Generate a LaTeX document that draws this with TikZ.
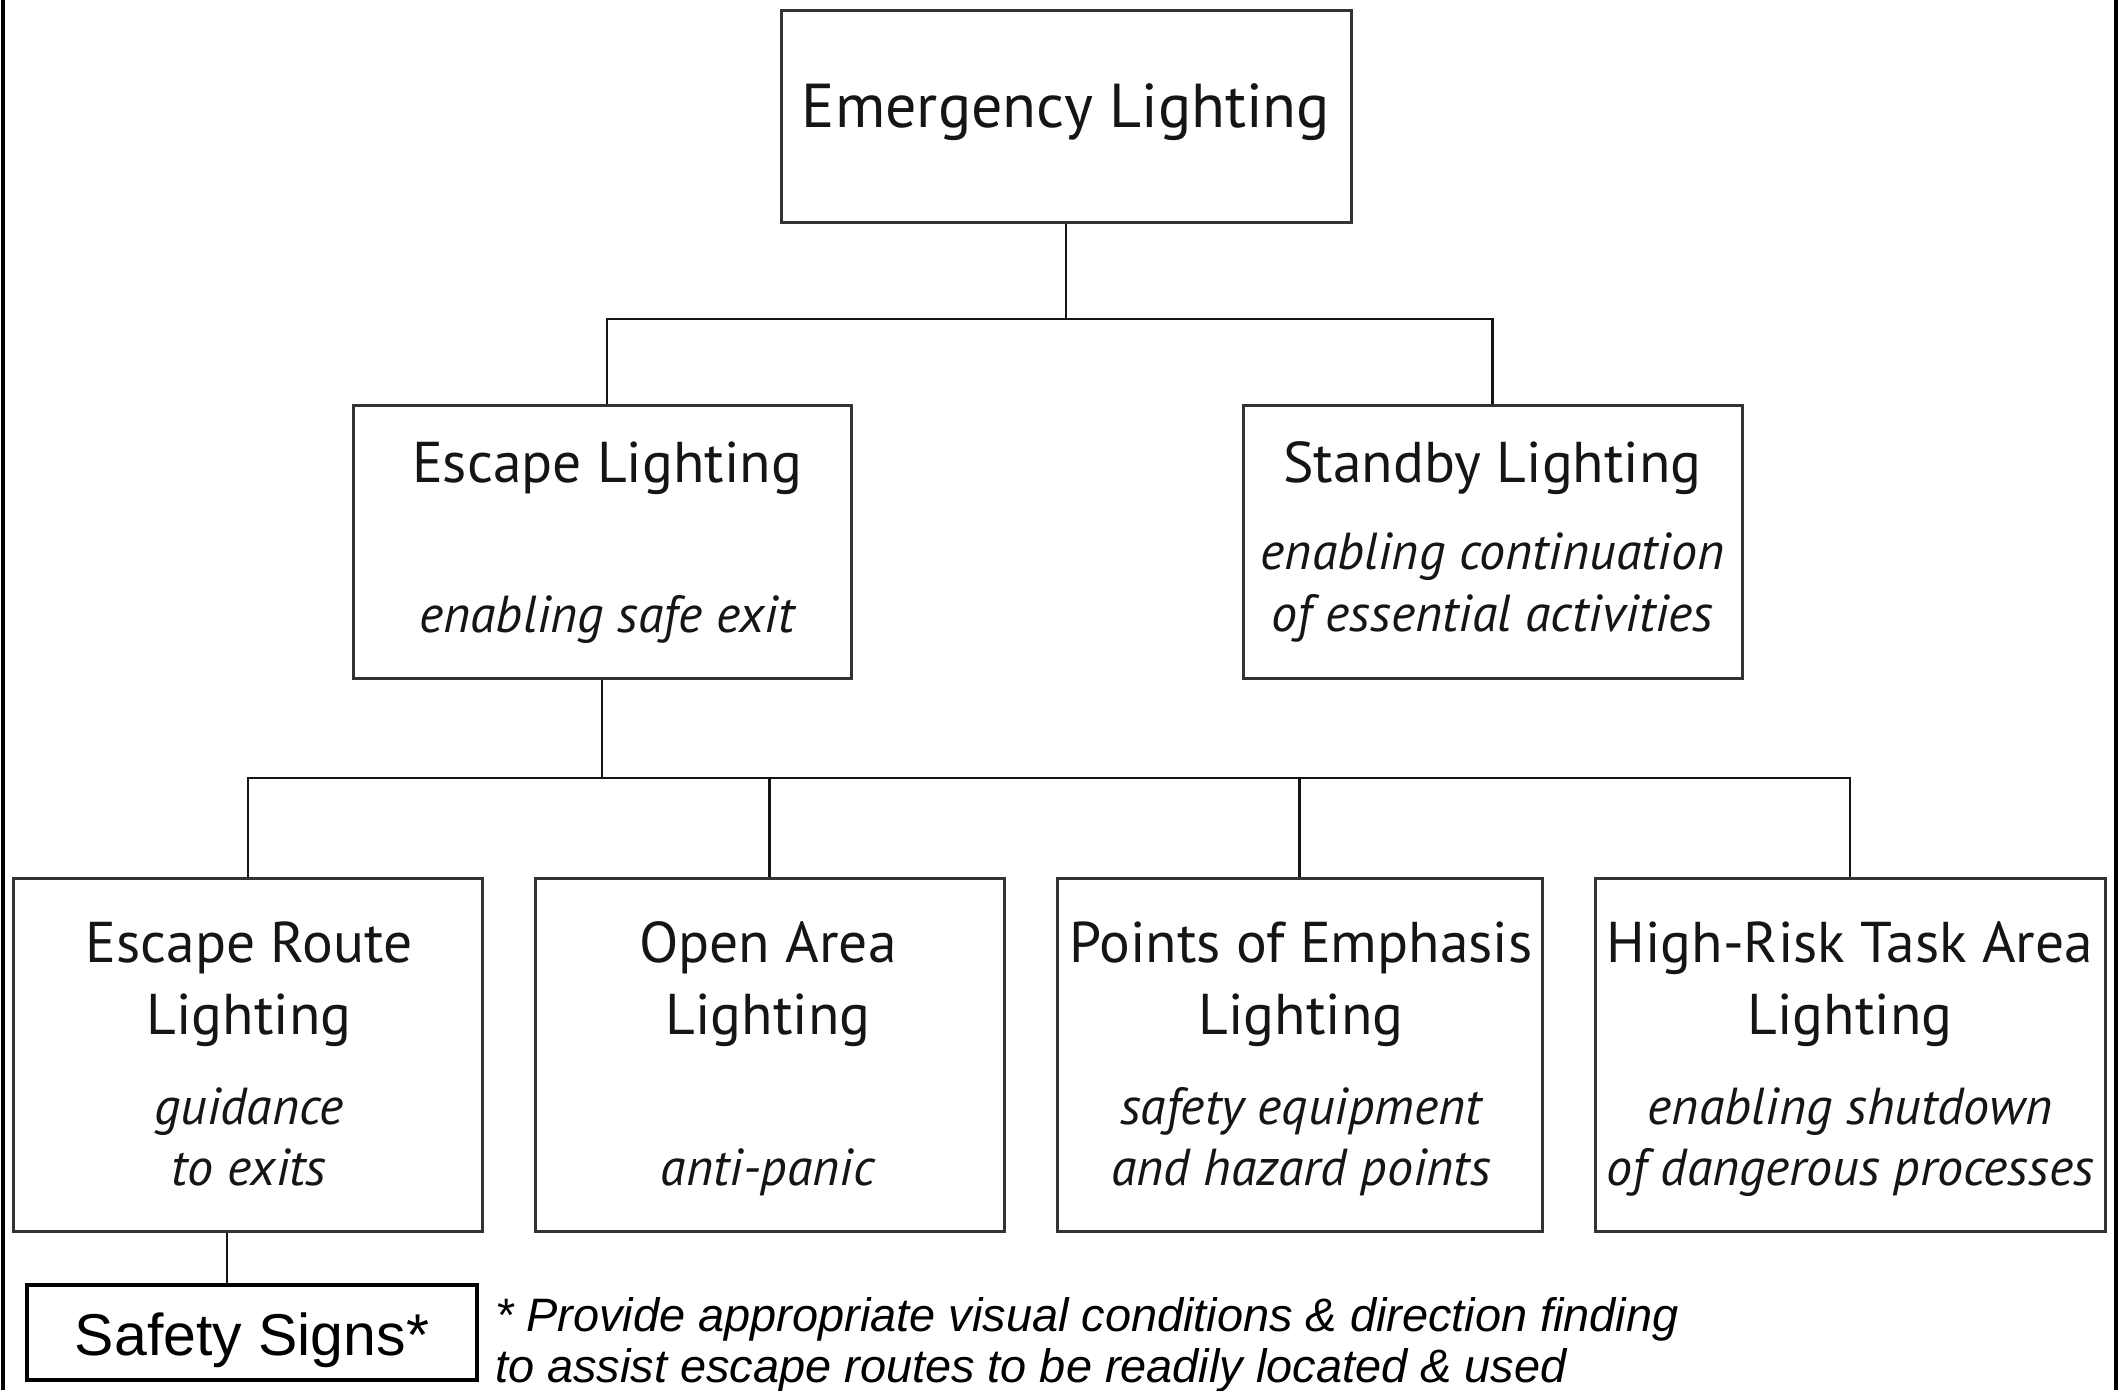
\documentclass[tikz,border=0pt]{standalone}
\usepackage{fontspec}
\setmainfont{PT Sans}
\newfontfamily\arialf{Liberation Sans}
\definecolor{ink}{HTML}{151515}
\definecolor{edge}{HTML}{333333}
\begin{document}
\begin{tikzpicture}[x=1pt,y=-1pt,
  box/.style={draw=edge,line width=3pt,rectangle,inner sep=0pt},
  conn/.style={draw=ink,line width=2.6pt},
  ttl/.style={anchor=base,inner sep=0pt,text=ink,font=\fontsize{57.5}{66}\selectfont},
  sub/.style={anchor=base,inner sep=0pt,text=ink,font=\fontsize{52}{60}\selectfont\itshape},
  frame/.style={draw=black,line width=3.5pt}]
\useasboundingbox (0,0) rectangle (2119,1390);
% outer frame sides
\coordinate (fl1) at (3,0); \coordinate (fl2) at (3,1390);
\coordinate (fr1) at (2116,0); \coordinate (fr2) at (2116,1390);
\draw[frame] (fl1) -- (fl2);
\draw[frame] (fr1) -- (fr2);
% boxes
\node[box,minimum width=570pt,minimum height=212pt] (em) at (1066,116) {};
\node[box,minimum width=498pt,minimum height=273pt] (esc) at (602,541.5) {};
\node[box,minimum width=499pt,minimum height=273pt] (stb) at (1492.5,541.5) {};
\node[box,minimum width=469pt,minimum height=353pt] (er) at (248,1054.5) {};
\node[box,minimum width=469pt,minimum height=353pt] (oa) at (769.5,1054.5) {};
\node[box,minimum width=485pt,minimum height=353pt] (pe) at (1299.5,1054.5) {};
\node[box,minimum width=510pt,minimum height=353pt] (hr) at (1850,1054.5) {};
\node[draw=black,line width=4.5pt,minimum width=450pt,minimum height=95pt,inner sep=0pt] (ss) at (252,1332.5) {};
% texts
\node[ttl,font=\fontsize{62}{70}\selectfont] (t-em) at (1066,127) {Emergency Lighting};
\node[ttl] (t-esc) at (607,482) {Escape Lighting};
\node[sub] (s-esc) at (607,632) {enabling safe exit};
\node[ttl] (t-stb) at (1492.5,482) {Standby Lighting};
\node[sub] (s-stb1) at (1492.5,569) {enabling continuation};
\node[sub] (s-stb2) at (1492.5,631) {of essential activities};
\node[ttl] (t-er1) at (249,962) {Escape Route};
\node[ttl] (t-er2) at (249,1034) {Lighting};
\node[sub] (s-er1) at (249,1124) {guidance};
\node[sub] (s-er2) at (249,1185) {to exits};
\node[ttl] (t-oa1) at (768,962) {Open Area};
\node[ttl] (t-oa2) at (768,1034) {Lighting};
\node[sub] (s-oa2) at (768,1185) {anti-panic};
\node[ttl] (t-pe1) at (1301,962) {Points of Emphasis};
\node[ttl] (t-pe2) at (1301,1034) {Lighting};
\node[sub] (s-pe1) at (1301,1124) {safety equipment};
\node[sub] (s-pe2) at (1301,1185) {and hazard points};
\node[ttl] (t-hr1) at (1850,962) {High-Risk Task Area};
\node[ttl] (t-hr2) at (1850,1034) {Lighting};
\node[sub] (s-hr1) at (1850,1124) {enabling shutdown};
\node[sub] (s-hr2) at (1850,1185) {of dangerous processes};
\node[anchor=base,inner sep=0pt,font=\arialf\fontsize{59}{66}\selectfont] (t-ss) at (252,1355) {Safety Signs*};
\node[anchor=base west,inner sep=0pt,font=\arialf\itshape\fontsize{46.9}{50}\selectfont] (n1) at (495,1331) {* Provide appropriate visual conditions \& direction finding};
\node[anchor=base west,inner sep=0pt,font=\arialf\itshape\fontsize{46.9}{50}\selectfont] (n2) at (495,1382) {to assist escape routes to be readily located \& used};
% connectors
\coordinate (j1) at (1066,319);
\coordinate (j2) at (602,778);
\draw[conn] (em.south) -- (j1);
\draw[conn] ([xshift=5pt]esc.north) |- (j1) -| (stb.north);
\draw[conn] (esc.south) -- (j2);
\draw[conn] (er.north) |- (j2) -| (hr.north);
\draw[conn] (oa.north) -- (oa.north |- j2);
\draw[conn] (pe.north) -- (pe.north |- j2);
\draw[conn] ([xshift=-25pt]ss.north) -- ([xshift=-25pt]ss.north |- er.south);
\end{tikzpicture}
\end{document}
